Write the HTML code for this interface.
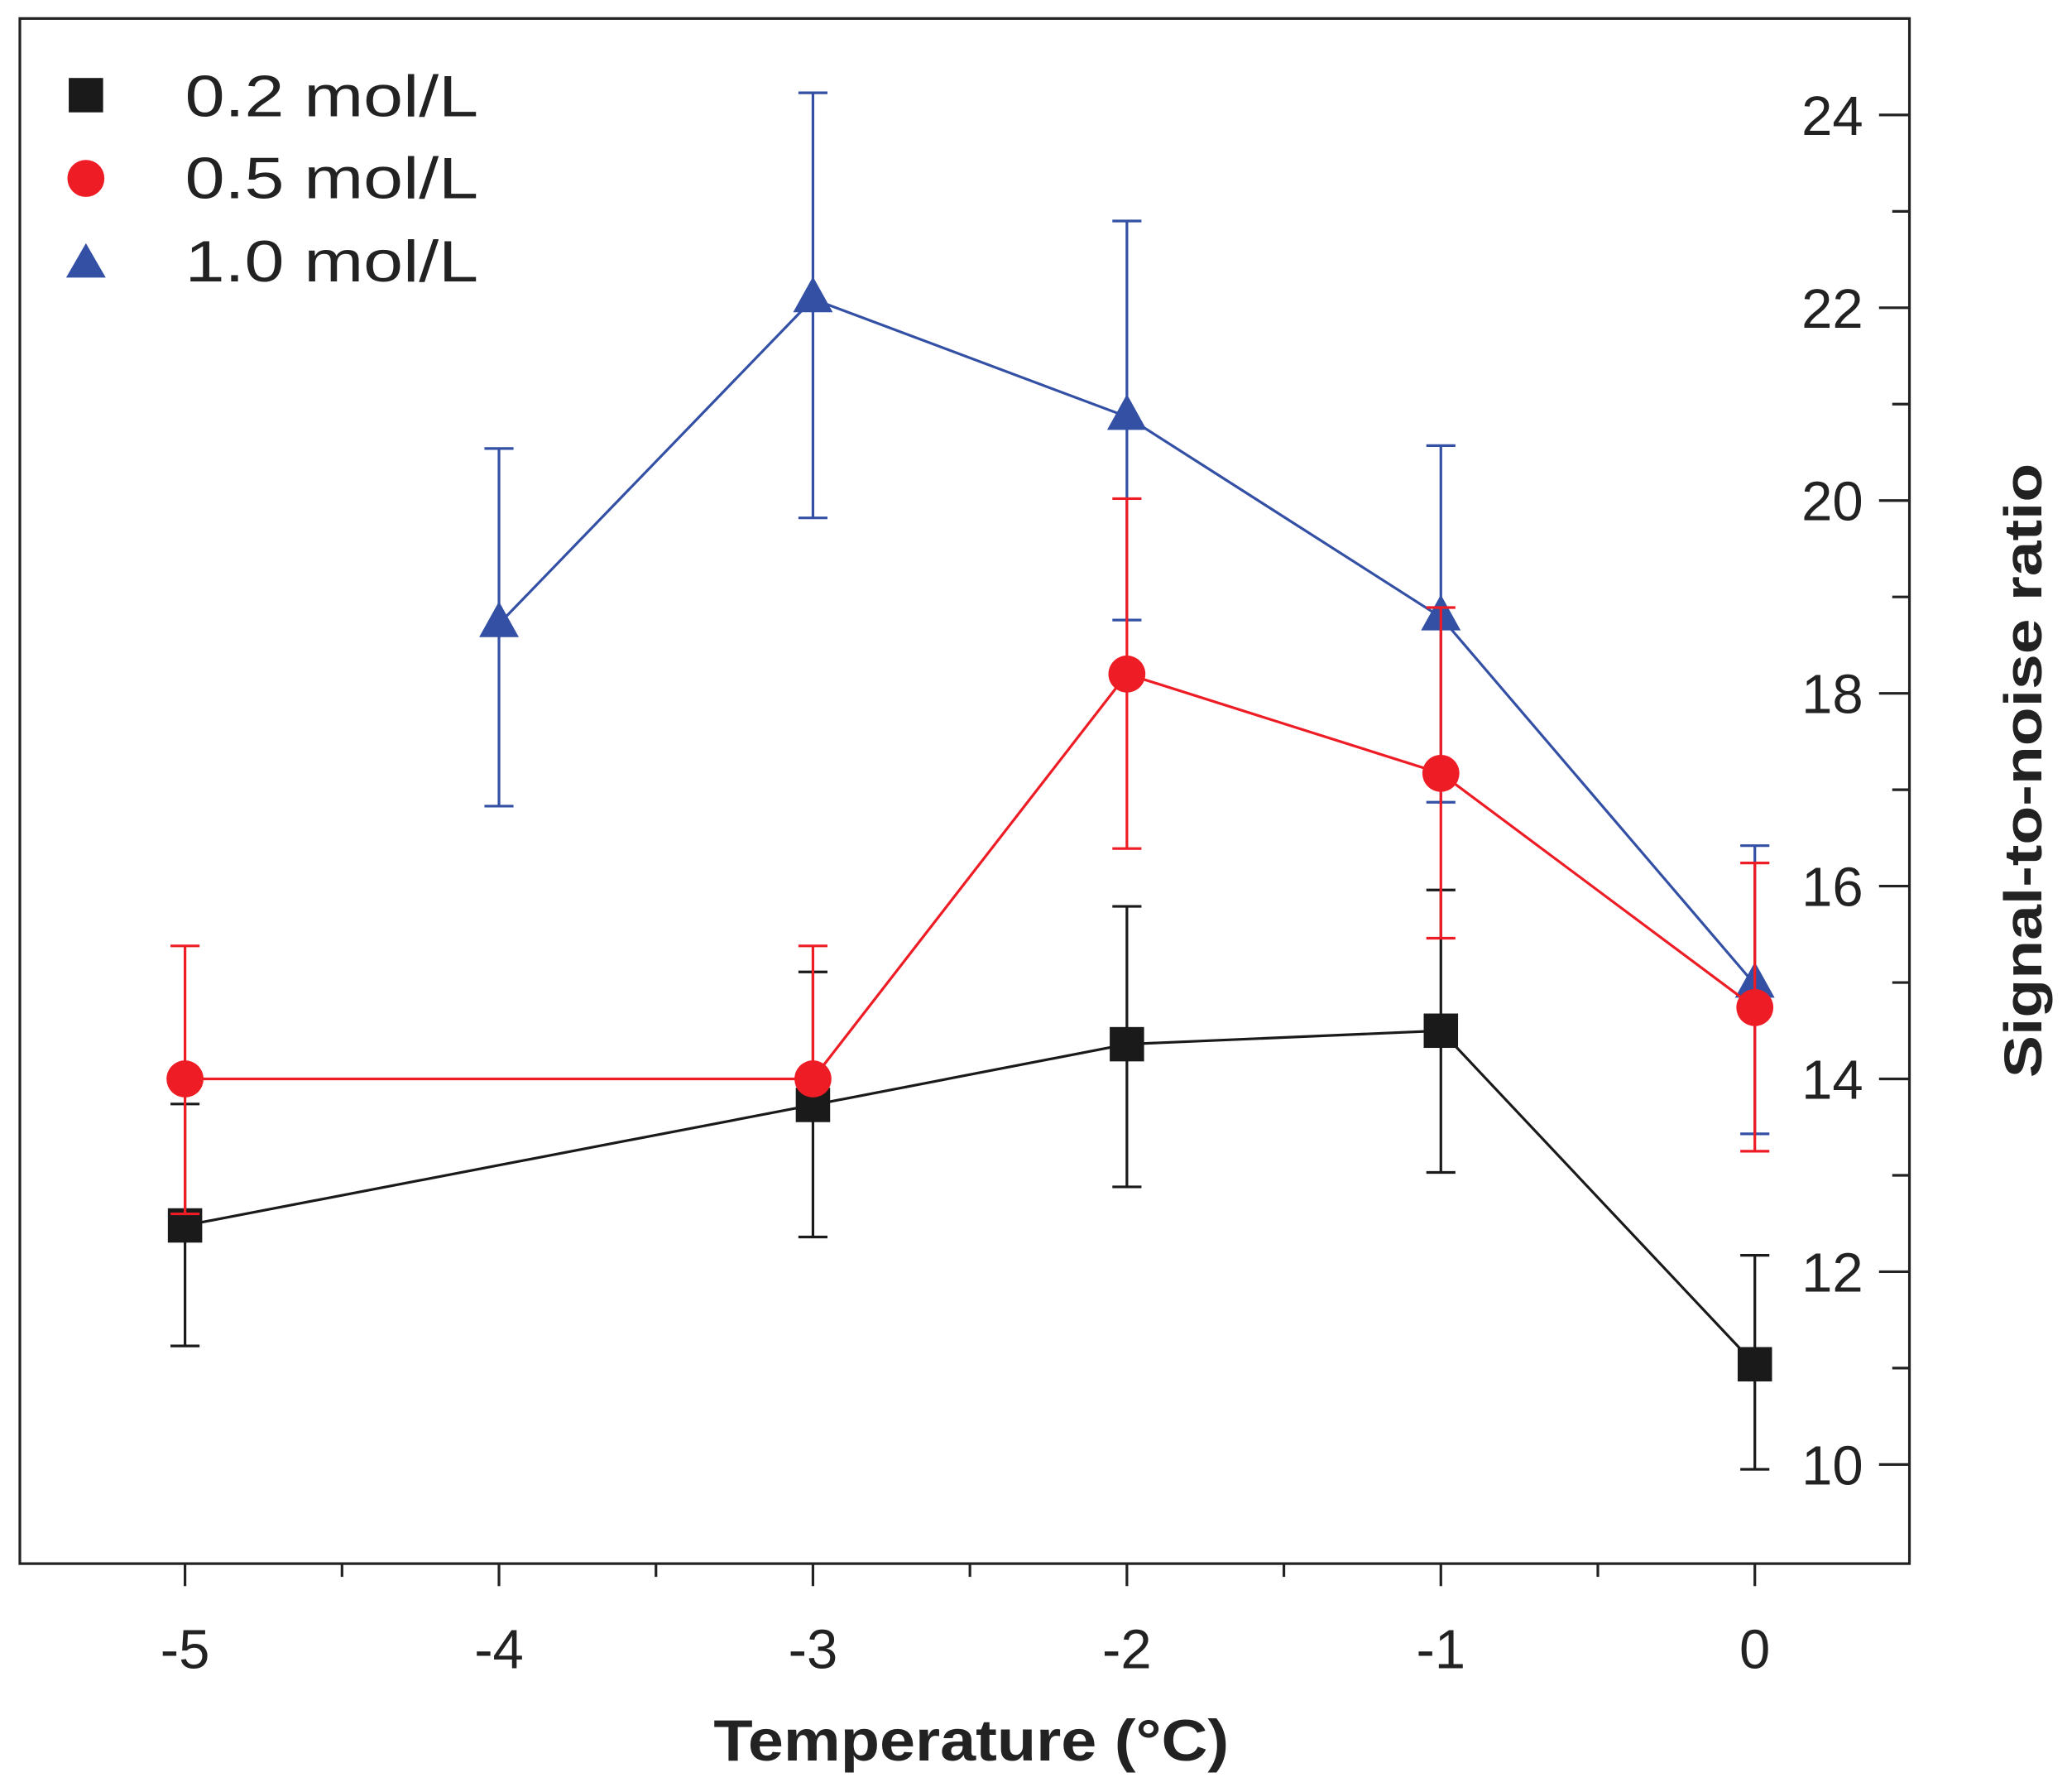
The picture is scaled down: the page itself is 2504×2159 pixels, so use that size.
<!DOCTYPE html>
<html><head><meta charset="utf-8"><style>
html,body{margin:0;padding:0;background:#fff;}
svg{display:block;font-family:"Liberation Sans",sans-serif;}
</style></head><body>
<svg id="chart" width="2504" height="2159" viewBox="0 0 1568 1352" xmlns="http://www.w3.org/2000/svg">
<rect x="15" y="14" width="1430" height="1169" fill="none" stroke="#222" stroke-width="2"/>
<g id="axes"></g>
<g id="series"></g>
<g font-size="44" fill="#222">
<rect x="52" y="59" width="26" height="26" fill="#1a1a1a"/>
<text x="140" y="88" textLength="222" lengthAdjust="spacingAndGlyphs">0.2 mol/L</text>
<circle cx="65" cy="135" r="14" fill="#ee1c25"/>
<text x="140" y="150" textLength="222" lengthAdjust="spacingAndGlyphs">0.5 mol/L</text>
<polygon points="65,184 80,210 50,210" fill="#3350a5"/>
<text x="140" y="213" textLength="222" lengthAdjust="spacingAndGlyphs">1.0 mol/L</text>
</g>
<text x="540" y="1332" textLength="390" lengthAdjust="spacingAndGlyphs" font-size="44" font-weight="bold" fill="#222">Temperature (°C)</text>
<text transform="translate(1545,583) rotate(-90)" text-anchor="middle" textLength="465" lengthAdjust="spacingAndGlyphs" font-size="40" font-weight="bold" fill="#222">Signal-to-noise ratio</text>
</svg>
<script>
const xCats=[-5,-4,-3,-2,-1,0];
const yTicks=[10,12,14,16,18,20,22,24];
const s1x=[-5,-3,-2,-1,0];
const s1y=[12.48,13.73,14.36,14.5,11.04];
const s1lo=[11.23,12.36,12.88,13.03,9.95];
const s1hi=[13.74,15.11,15.79,15.96,12.17];
const s2x=[-5,-3,-2,-1,0];
const s2y=[14.0,14.0,18.2,17.17,14.74];
const s2lo=[12.6,14.0,16.39,15.46,13.25];
const s2hi=[15.38,15.38,20.02,18.89,16.24];
const s3x=[-4,-3,-2,-1,0];
const s3y=[18.72,22.09,20.87,18.79,14.98];
const s3lo=[16.83,19.82,18.76,16.87,13.43];
const s3hi=[20.54,24.23,22.9,20.57,16.42];
const NS="http://www.w3.org/2000/svg";
const X=v=>1328+(v)*237.6;
const Y=v=>1108-(v-10)*72.93;
function mk(tag,at,parent){const e=document.createElementNS(NS,tag);for(const k in at)e.setAttribute(k,at[k]);parent.appendChild(e);return e;}
const ax=document.getElementById('axes');
for(let v=-5;v<=0.01;v+=0.5){
  const major=Math.abs(v-Math.round(v))<0.01;
  const t=mk('line',{x1:X(v),x2:X(v),y1:1183,y2:major?1200:1193,stroke:'#222','stroke-width':2},ax);
  
  
}
xCats.forEach(c=>{const t=mk('text',{x:X(c),y:1262,'text-anchor':'middle','font-size':42,fill:'#222'},ax);t.textContent=c;
  
  });
for(let v=10;v<=24.01;v+=1){
  const major=v%2===0;
  const t=mk('line',{x1:major?1422:1432,x2:1445,y1:Y(v),y2:Y(v),stroke:'#222','stroke-width':2},ax);
  
  
}
yTicks.forEach(v=>{const t=mk('text',{x:1410,y:Y(v)+15,'text-anchor':'end','font-size':42,fill:'#222'},ax);t.textContent=v;
  
  });
const sg=document.getElementById('series');
function series(xs,ys,lo,hi,color,shape,name){
  const g=mk('g',{},sg);
  
  
  xs.forEach((x,i)=>{
    let d=`M${X(x)},${Y(lo[i])}V${Y(hi[i])}M${X(x)-11},${Y(hi[i])}h22`;
    if(lo[i]<ys[i]-0.01) d+=`M${X(x)-11},${Y(lo[i])}h22`;
    const e=mk('path',{d:d,stroke:color,'stroke-width':2,fill:'none'},g);
    
    
  });
  const l=mk('polyline',{points:xs.map((x,i)=>X(x)+','+Y(ys[i])).join(' '),stroke:color,'stroke-width':2,fill:'none'},g);
  
  
  xs.forEach((x,i)=>{
    const cx=X(x),cy=Y(ys[i]);let m;
    if(shape==='sq')m=mk('rect',{x:cx-13,y:cy-13,width:26,height:26,fill:color},g);
    else if(shape==='c')m=mk('circle',{cx:cx,cy:cy,r:14,fill:color},g);
    else m=mk('polygon',{points:`${cx},${cy-17} ${cx+15},${cy+10} ${cx-15},${cy+10}`,fill:color},g);
    
    
  });
}
series(s1x,s1y,s1lo,s1hi,'#1a1a1a','sq','0.2');
series(s3x,s3y,s3lo,s3hi,'#3350a5','t','1.0');
series(s2x,s2y,s2lo,s2hi,'#ee1c25','c','0.5');
</script>
</body></html>
